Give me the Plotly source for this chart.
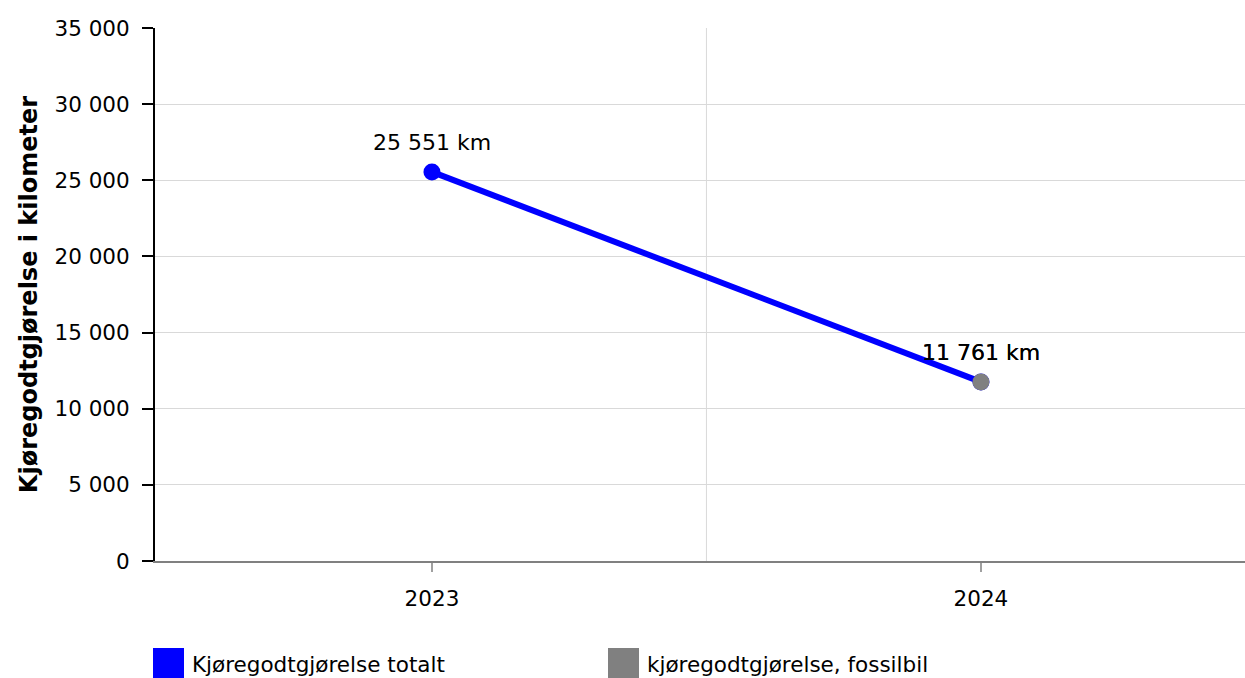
import plotly.graph_objects as go

years = ["2023", "2024"]
total_km = [25551, 11761]
fossil_years = ["2024"]
fossil_km = [11761]
series_names = ["Kjøregodtgjørelse totalt", "kjøregodtgjørelse, fossilbil"]
series_colors = ["#0000ff", "#808080"]
y_ticks = [0, 5000, 10000, 15000, 20000, 25000, 30000, 35000]
y_title = "Kjøregodtgjørelse i kilometer"

FONT = "DejaVu Sans, Verdana, sans-serif"
FS = 21.5

fig = go.Figure()
fig.add_trace(go.Scatter(
    x=years, y=total_km, name=series_names[0], mode="lines+markers",
    line=dict(color=series_colors[0], width=6),
    marker=dict(color=series_colors[0], size=17),
    showlegend=False, cliponaxis=False, hoverinfo="skip",
))
fig.add_trace(go.Scatter(
    x=fossil_years, y=fossil_km, name=series_names[1], mode="markers",
    marker=dict(color=series_colors[1], size=17),
    showlegend=False, cliponaxis=False, hoverinfo="skip",
))

W, H = 1245, 678
L, R, T, B = 155, 0, 28, 117
pw, ph = W - L - R, H - T - B
def px(xp): return (xp - L) / pw
def py(yp): return (H - B - yp) / ph

shapes = []
annotations = []

# data labels for both series (category index positions)
for xs, ys in [(years, total_km), (fossil_years, fossil_km)]:
    for xv, yv in zip(xs, ys):
        annotations.append(dict(xref="x", yref="y", x=years.index(xv), y=yv, yshift=29,
                                text=f"{yv:,} km".replace(",", " "), showarrow=False,
                                xanchor="center", yanchor="middle",
                                font=dict(family=FONT, size=22, color="black")))

# legend drawn manually (large square swatches)
legend_x = [153, 608]
for i, name in enumerate(series_names):
    x0 = legend_x[i]
    shapes.append(dict(type="rect", xref="paper", yref="paper",
                       x0=px(x0), x1=px(x0 + 31), y0=py(648), y1=py(679),
                       fillcolor=series_colors[i], line=dict(width=0)))
    annotations.append(dict(xref="paper", yref="paper", x=px(x0 + 37), y=py(664),
                            xanchor="left", yanchor="middle", showarrow=False,
                            text=name, font=dict(family=FONT, size=FS, color="black")))

# vertical gridline between categories
shapes.append(dict(type="line", xref="x", yref="paper", x0=0.5, x1=0.5, y0=0, y1=1,
                   line=dict(color="#d9d9d9", width=1), layer="below"))

fig.update_layout(
    width=W, height=H,
    margin=dict(l=L, r=R, t=T, b=B),
    paper_bgcolor="white", plot_bgcolor="white",
    separators=", ",
    font=dict(family=FONT, size=FS, color="black"),
    shapes=shapes, annotations=annotations,
    showlegend=False,
)
fig.update_xaxes(
    type="category", range=[-0.5045, 1.481],
    showline=True, linecolor="#808080", linewidth=2,
    ticks="outside", ticklen=9, tickcolor="#a0a0a0", tickwidth=2,
    showgrid=False, zeroline=False,
    tickfont=dict(family=FONT, size=FS, color="black"),
    ticklabelstandoff=8,
)
fig.update_yaxes(
    range=[0, 35000], tickvals=y_ticks, tickformat=",d",
    showline=True, linecolor="black", linewidth=2,
    ticks="outside", ticklen=11, tickcolor="black", tickwidth=2,
    showgrid=True, gridcolor="#d9d9d9", gridwidth=1, zeroline=False,
    tickfont=dict(family=FONT, size=FS, color="black"),
    ticklabelstandoff=8,
    title=dict(text=y_title, font=dict(family=FONT, size=24, color="black", weight="bold"), standoff=10),
)

fig.write_html("out.html", config={"displayModeBar": False},
               post_script="document.body.style.margin='0';document.body.style.overflow='hidden';")
